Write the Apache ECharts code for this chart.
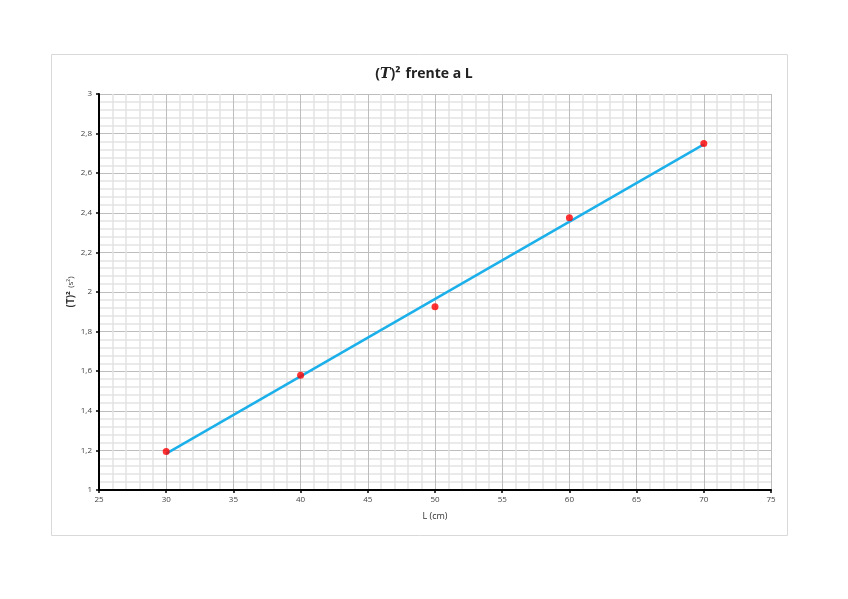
<!DOCTYPE html>
<html><head><meta charset="utf-8">
<script src="https://cdn.jsdelivr.net/npm/echarts@6/dist/echarts.min.js"></script>
<style>html,body{margin:0;padding:0;background:#fff}#c{width:848px;height:599px}</style>
</head><body><div id="c"></div>
<script>
const lengths = [30, 40, 50, 60, 70];
const periodSq = [1.195, 1.58, 1.925, 2.375, 2.75];
const fitX = [30, 70];
const fitY = [1.184, 2.746];

const chart = echarts.init(document.getElementById('c'));
const font = '"Open Sans", "Liberation Sans", sans-serif';
chart.setOption({
  animation: false,
  title: {
    text: '{p|(}{i|T}{p|)²} {p|frente a L}',
    left: 'center', top: 60,
    textStyle: {
      rich: {
        p: {fontFamily: font, fontWeight: 'bold', fontSize: 14, color: '#222'},
        i: {fontFamily: '"DejaVu Serif", serif', fontStyle: 'italic', fontWeight: 'bold', fontSize: 14, color: '#222'}
      }
    }
  },
  graphic: [{
    type: 'rect', shape: {x: 51.5, y: 54.5, width: 736, height: 481},
    style: {fill: 'none', stroke: '#d9d9d9', lineWidth: 1}, z: -1
  }],
  grid: {left: 99, right: 77, top: 94, bottom: 109},
  xAxis: {
    type: 'value', min: 25, max: 75, interval: 5,
    name: 'L (cm)', nameLocation: 'middle', nameGap: 22,
    nameTextStyle: {fontFamily: font, fontSize: 9, color: '#333'},
    axisLine: {show: true, onZero: false, lineStyle: {color: '#000', width: 2}},
    axisTick: {show: true, length: 3, lineStyle: {color: '#000', width: 1.5}},
    axisLabel: {fontFamily: font, fontSize: 8, color: '#444', margin: 6},
    splitLine: {show: true, lineStyle: {color: '#bdbdbd', width: 1}},
    minorTick: {show: false, splitNumber: 5},
    minorSplitLine: {show: true, lineStyle: {color: '#e3e3e3', width: 1.5}}
  },
  yAxis: {
    type: 'value', min: 1, max: 3, interval: 0.2,
    name: '{b|(T)²} {n|(s²)}', nameLocation: 'middle', nameGap: 22, nameRotate: 90,
    nameMoveOverlap: false,
    nameTextStyle: {
      rich: {
        b: {fontFamily: font, fontWeight: 'bold', fontSize: 10, color: '#333'},
        n: {fontFamily: font, fontSize: 8, color: '#333'}
      }
    },
    axisLine: {show: true, onZero: false, lineStyle: {color: '#000', width: 2}},
    axisTick: {show: true, length: 3, lineStyle: {color: '#000', width: 1.5}},
    axisLabel: {fontFamily: font, fontSize: 8, color: '#444', margin: 7,
      formatter: v => (Math.round(v * 10) / 10).toString().replace('.', ',')},
    splitLine: {show: true, lineStyle: {color: '#bdbdbd', width: 1}},
    minorTick: {show: false, splitNumber: 5},
    minorSplitLine: {show: true, lineStyle: {color: '#e3e3e3', width: 1.5}}
  },
  series: [
    {
      type: 'line', data: fitX.map((x, i) => [x, fitY[i]]),
      showSymbol: false, lineStyle: {color: '#1cb0ea', width: 2.5}, z: 2
    },
    {
      type: 'scatter', data: lengths.map((x, i) => [x, periodSq[i]]),
      symbolSize: 7, itemStyle: {color: '#ff0000'}, z: 3
    }
  ]
});
</script></body></html>
